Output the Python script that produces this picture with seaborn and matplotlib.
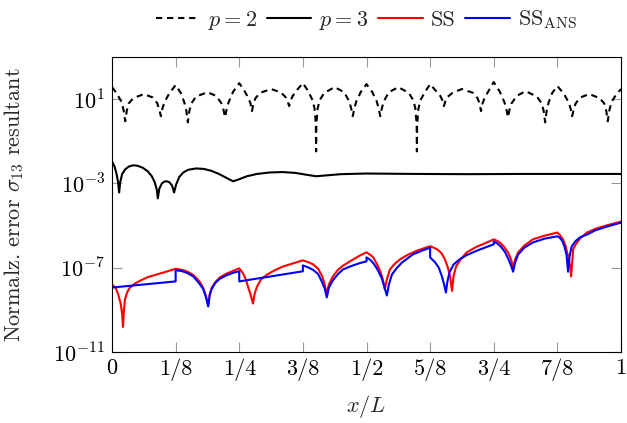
import numpy as np
import pandas as pd
import seaborn as sns
import matplotlib.pyplot as plt

# ---- data (x/L, log10 of normalized error) ----
p2_x = [0.000, 0.010, 0.019, 0.023, 0.026, 0.029, 0.033, 0.042, 0.0625, 0.080, 0.089, 0.093, 0.096, 0.099, 0.103, 0.112,
        0.125, 0.135, 0.142, 0.146, 0.149, 0.152, 0.156, 0.165, 0.1875, 0.205, 0.215, 0.219, 0.222, 0.225, 0.229, 0.238,
        0.250, 0.260, 0.268, 0.272, 0.275, 0.278, 0.282, 0.291, 0.3125, 0.331, 0.341, 0.345, 0.348, 0.351, 0.355, 0.364,
        0.375, 0.385, 0.394, 0.398, 0.4005, 0.401, 0.4015, 0.404, 0.408, 0.417, 0.4375, 0.456, 0.466, 0.470, 0.473, 0.476, 0.480, 0.489,
        0.500,
        0.511, 0.520, 0.524, 0.527, 0.530, 0.534, 0.544, 0.5625, 0.583, 0.592, 0.596, 0.5985, 0.599, 0.5995, 0.602, 0.606, 0.615,
        0.625, 0.636, 0.645, 0.649, 0.652, 0.655, 0.659, 0.669, 0.6875, 0.709, 0.718, 0.722, 0.725, 0.728, 0.732, 0.740,
        0.750, 0.762, 0.771, 0.775, 0.778, 0.781, 0.785, 0.795, 0.8125, 0.835, 0.844, 0.848, 0.851, 0.854, 0.858, 0.865,
        0.875, 0.888, 0.897, 0.901, 0.904, 0.907, 0.911, 0.920, 0.9375, 0.958, 0.967, 0.971, 0.974, 0.977, 0.981, 0.990, 1.000]
p2_y = [1.57, 1.25, 0.85, 0.45, -0.05, 0.45, 0.80, 1.05, 1.24, 1.08, 0.80, 0.50, 0.19, 0.55, 0.85, 1.25,
        1.67, 1.30, 0.85, 0.45, -0.10, 0.45, 0.80, 1.12, 1.33, 1.15, 0.80, 0.50, 0.14, 0.50, 0.85, 1.35,
        1.76, 1.40, 1.05, 0.80, 0.43, 0.80, 1.05, 1.30, 1.48, 1.33, 1.10, 0.90, 0.67, 0.95, 1.15, 1.45,
        1.76, 1.40, 0.95, 0.55, -0.20, -1.48, -0.20, 0.55, 0.95, 1.30, 1.57, 1.33, 0.90, 0.55, 0.19, 0.55, 0.90, 1.35,
        1.71,
        1.35, 0.90, 0.55, 0.19, 0.55, 0.90, 1.33, 1.57, 1.30, 0.95, 0.55, -0.20, -1.48, -0.20, 0.55, 0.95, 1.35,
        1.71, 1.40, 1.15, 0.95, 0.67, 0.90, 1.10, 1.30, 1.48, 1.30, 1.05, 0.80, 0.43, 0.80, 1.05, 1.40,
        1.81, 1.35, 0.85, 0.50, 0.14, 0.50, 0.80, 1.15, 1.38, 1.12, 0.80, 0.45, -0.10, 0.45, 0.85, 1.30,
        1.62, 1.25, 0.85, 0.55, 0.19, 0.50, 0.80, 1.08, 1.24, 1.05, 0.80, 0.45, -0.05, 0.45, 0.85, 1.20, 1.48]

p3_x = [0.000, 0.005, 0.009, 0.012, 0.014, 0.016, 0.020, 0.026, 0.033, 0.041, 0.050, 0.060, 0.070, 0.078, 0.084,
        0.088, 0.090, 0.093, 0.098, 0.103, 0.108, 0.113, 0.118, 0.122, 0.126, 0.132, 0.140, 0.150, 0.165,
        0.180, 0.195, 0.210, 0.225, 0.238, 0.250, 0.265, 0.285, 0.310, 0.335, 0.360, 0.385, 0.401,
        0.420, 0.450, 0.500, 0.550, 0.600, 0.700, 0.800, 0.900, 1.000]
p3_y = [-1.95, -2.20, -2.55, -2.95, -3.43, -2.95, -2.55, -2.33, -2.20, -2.14, -2.16, -2.25, -2.42, -2.65, -2.95,
        -3.30, -3.71, -3.25, -3.00, -2.91, -2.90, -2.95, -3.10, -3.43, -3.05, -2.70, -2.48, -2.35, -2.29,
        -2.31, -2.40, -2.55, -2.74, -2.90, -2.80, -2.66, -2.55, -2.48, -2.46, -2.50, -2.60, -2.66,
        -2.62, -2.56, -2.53, -2.54, -2.55, -2.56, -2.55, -2.55, -2.55]

ss_x = [0.000, 0.007, 0.012, 0.017, 0.020, 0.0216, 0.0235, 0.0255, 0.030, 0.035, 0.045, 0.055, 0.070, 0.088, 0.105, 0.125,
        0.137, 0.147, 0.160, 0.172, 0.179, 0.184, 0.189, 0.192, 0.196, 0.203, 0.212, 0.225, 0.238, 0.250,
        0.257, 0.263, 0.267, 0.272, 0.277, 0.280, 0.285, 0.293, 0.305, 0.320, 0.336, 0.355, 0.375,
        0.387, 0.395, 0.405, 0.413, 0.418, 0.422, 0.426, 0.434, 0.444, 0.454, 0.470, 0.487, 0.500,
        0.507, 0.513, 0.520, 0.527, 0.532, 0.536, 0.540, 0.546, 0.556, 0.566, 0.580, 0.600, 0.625,
        0.632, 0.639, 0.647, 0.654, 0.660, 0.664, 0.668, 0.671, 0.676, 0.685, 0.697, 0.715, 0.735, 0.750,
        0.756, 0.762, 0.770, 0.778, 0.784, 0.788, 0.792, 0.798, 0.810, 0.827, 0.850, 0.875,
        0.880, 0.886, 0.891, 0.896, 0.900, 0.902, 0.904, 0.906, 0.912, 0.920, 0.933, 0.950, 0.975, 1.000]
ss_y = [-7.80, -7.95, -8.25, -8.70, -9.20, -9.81, -9.00, -8.50, -8.15, -7.95, -7.75, -7.62, -7.45, -7.32, -7.20, -7.05,
        -7.10, -7.17, -7.35, -7.65, -7.95, -8.30, -8.75, -8.25, -7.95, -7.68, -7.46, -7.28, -7.15, -7.03,
        -7.25, -7.55, -7.89, -8.25, -8.70, -8.25, -7.89, -7.55, -7.32, -7.12, -6.94, -6.80, -6.65,
        -6.75, -6.84, -7.05, -7.41, -7.80, -8.27, -7.80, -7.41, -7.10, -6.90, -6.66, -6.42, -6.27,
        -6.38, -6.50, -6.80, -7.17, -7.55, -8.03, -7.55, -7.08, -6.80, -6.60, -6.40, -6.18, -5.98,
        -6.05, -6.13, -6.30, -6.60, -7.00, -7.40, -8.10, -7.40, -6.94, -6.60, -6.27, -6.02, -5.82, -5.65,
        -5.72, -5.80, -6.00, -6.27, -6.60, -7.00, -6.60, -6.27, -5.95, -5.65, -5.48, -5.33,
        -5.45, -5.65, -5.95, -6.46, -6.90, -7.41, -6.80, -6.13, -5.85, -5.60, -5.33, -5.15, -4.97, -4.81]

ans_x = [0.000, 0.125, 0.125, 0.137, 0.147, 0.160, 0.170, 0.179, 0.184, 0.189, 0.192, 0.196, 0.203, 0.212, 0.225, 0.238, 0.250,
         0.250, 0.375, 0.375, 0.385, 0.395, 0.405, 0.413, 0.418, 0.422, 0.426, 0.434, 0.444, 0.454, 0.470, 0.487, 0.500,
         0.500, 0.507, 0.514, 0.522, 0.530, 0.535, 0.540, 0.544, 0.550, 0.560, 0.570, 0.591, 0.608, 0.625,
         0.625, 0.635, 0.642, 0.648, 0.652, 0.656, 0.659, 0.663, 0.671, 0.683, 0.697, 0.720, 0.750,
         0.750, 0.757, 0.764, 0.772, 0.779, 0.784, 0.788, 0.792, 0.798, 0.810, 0.827, 0.850, 0.875,
         0.880, 0.885, 0.889, 0.893, 0.896, 0.899, 0.903, 0.910, 0.920, 0.933, 0.950, 0.975, 1.000]
ans_y = [-7.94, -7.65, -7.12, -7.16, -7.24, -7.42, -7.70, -8.00, -8.35, -8.84, -8.30, -8.00, -7.72, -7.52, -7.36, -7.24, -7.17,
         -7.65, -7.17, -6.89, -6.98, -7.10, -7.30, -7.70, -8.00, -8.41, -7.95, -7.60, -7.30, -7.08, -6.92, -6.78, -6.70,
         -6.51, -6.62, -6.80, -7.10, -7.50, -7.90, -8.32, -7.80, -7.32, -7.00, -6.75, -6.37, -6.20, -6.05,
         -6.51, -6.75, -7.00, -7.40, -7.75, -8.18, -7.65, -7.22, -6.85, -6.60, -6.40, -6.16, -5.89,
         -5.75, -5.85, -6.00, -6.25, -6.60, -6.90, -7.19, -6.75, -6.37, -6.05, -5.80, -5.62, -5.51,
         -5.58, -5.75, -6.00, -6.40, -7.19, -6.45, -6.00, -5.75, -5.55, -5.43, -5.22, -5.03, -4.86]

xtick_vals = [0, 1/8, 1/4, 3/8, 1/2, 5/8, 3/4, 7/8, 1]
xtick_labels = ["0", "1/8", "1/4", "3/8", "1/2", "5/8", "3/4", "7/8", "1"]
ytick_vals = [1e-11, 1e-7, 1e-3, 1e1]
ytick_labels = [r"$10^{-11}$", r"$10^{-7}$", r"$10^{-3}$", r"$10^{1}$"]

series = [
    ("$p = 2$", p2_x, p2_y, "black"),
    ("$p = 3$", p3_x, p3_y, "black"),
    ("SS", ss_x, ss_y, "#ff0000"),
    (r"SS$_{\mathrm{ANS}}$", ans_x, ans_y, "#0000ff"),
]

sns.set_theme(style="ticks")
plt.rcParams["font.family"] = ["cmr10", "DejaVu Serif"]
plt.rcParams["mathtext.fontset"] = "cm"
plt.rcParams["axes.formatter.use_mathtext"] = True
plt.rcParams["axes.unicode_minus"] = False

FS = 16

fig = plt.figure(figsize=(6.27, 4.23), dpi=100)
ax = fig.add_axes([112/627, 1 - 352/423, (621-112)/627, (352-57)/423])

for name, xs, ys, col in series:
    df = pd.DataFrame({"x": xs, "y": 10.0 ** np.array(ys)})
    sns.lineplot(data=df, x="x", y="y", ax=ax, color=col, lw=1.5,
                 estimator=None, sort=False, label=name)
ax.lines[0].set_dashes((3.0, 2.3))

ax.set_yscale("log")
ax.set_xlim(0, 1)
ax.set_ylim(1e-11, 1e3)
ax.set_xticks(xtick_vals)
ax.set_xticklabels(xtick_labels, fontsize=FS)
ax.set_yticks(ytick_vals)
ax.set_yticklabels(ytick_labels, fontsize=FS)
ax.yaxis.set_minor_locator(plt.NullLocator())
ax.xaxis.set_minor_locator(plt.NullLocator())
ax.tick_params(axis="both", which="major", direction="in", length=7, width=0.8,
               color="#999999", top=True, right=True, labelcolor="black")
ax.tick_params(axis="x", pad=5)
ax.tick_params(axis="y", pad=5)
for s in ax.spines.values():
    s.set_color("black")
    s.set_linewidth(0.8)

ax.set_xlabel("$x/L$", fontsize=FS, labelpad=8)
ax.set_ylabel(r"Normalz. error $\sigma_{13}$ resultant", fontsize=FS)
ax.yaxis.set_label_coords(-0.168, 0.5)

handles, labels = ax.get_legend_handles_labels()
if ax.get_legend() is not None:
    ax.get_legend().remove()
fig.legend(handles, labels, loc="center", bbox_to_anchor=(366/627, 1 - 20/423),
           ncol=4, frameon=False, fontsize=FS, handlelength=2.0,
           handletextpad=0.35, columnspacing=0.45, borderaxespad=0, borderpad=0)

fig.savefig("out.png", dpi=100)
